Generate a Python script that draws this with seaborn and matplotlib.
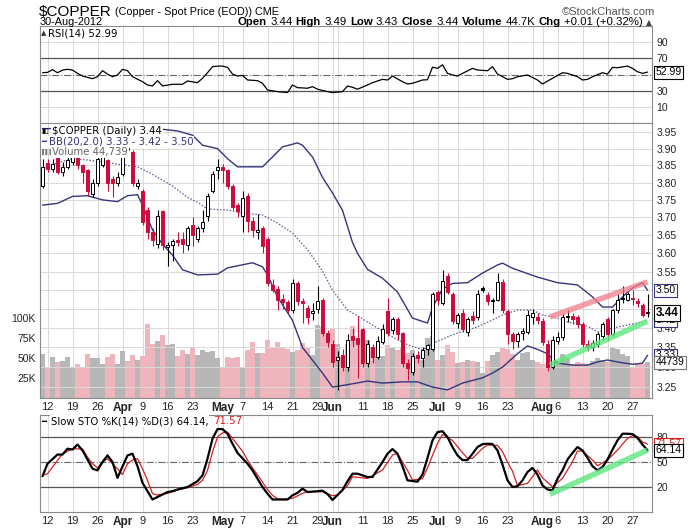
import numpy as np
import matplotlib
matplotlib.use("Agg")
import matplotlib.pyplot as plt
import matplotlib.transforms as mtransforms
from matplotlib.ticker import NullLocator, NullFormatter
import seaborn as sns

# ---------------- data ----------------
opens = [3.79, 3.856, 3.84, 3.876, 3.83, 3.845, 3.86, 3.876, 3.85, 3.836,
         3.768, 3.80, 3.85, 3.866, 3.81, 3.80, 3.826, 3.915, 3.89, 3.79,
         3.776, 3.72, 3.66, 3.626, 3.717, 3.618, 3.622, 3.636, 3.64, 3.622,
         3.68, 3.64, 3.669, 3.703, 3.776, 3.836, 3.845, 3.836, 3.79, 3.735,
         3.703, 3.76, 3.69, 3.66, 3.67, 3.64, 3.515, 3.503, 3.476, 3.468,
         3.448, 3.52, 3.472, 3.452, 3.44, 3.45, 3.474, 3.386, 3.36, 3.318,
         3.33, 3.30, 3.38, 3.375, 3.397, 3.31, 3.351, 3.326, 3.365, 3.444,
         3.394, 3.424, 3.388, 3.31, 3.288, 3.33, 3.322, 3.347, 3.347, 3.496,
         3.467, 3.538, 3.491, 3.414, 3.44, 3.39, 3.431, 3.428, 3.505, 3.487,
         3.47, 3.474, 3.523, 3.444, 3.384, 3.367, 3.388, 3.39, 3.428, 3.428,
         3.418, 3.36, 3.30, 3.367, 3.376, 3.428, 3.431, 3.428, 3.41, 3.36,
         3.351, 3.36, 3.38, 3.424, 3.384, 3.448, 3.48, 3.474, 3.48, 3.472,
         3.46, 3.44]
highs = [3.87, 3.87, 3.87, 3.885, 3.86, 3.88, 3.89, 3.885, 3.855, 3.84,
         3.81, 3.885, 3.886, 3.87, 3.82, 3.83, 3.91, 3.93, 3.895, 3.81,
         3.78, 3.73, 3.67, 3.72, 3.72, 3.63, 3.64, 3.66, 3.66, 3.675,
         3.70, 3.675, 3.72, 3.77, 3.835, 3.87, 3.855, 3.84, 3.795, 3.74,
         3.776, 3.77, 3.70, 3.71, 3.675, 3.645, 3.53, 3.51, 3.49, 3.475,
         3.53, 3.525, 3.48, 3.46, 3.465, 3.51, 3.48, 3.395, 3.37, 3.34,
         3.345, 3.385, 3.40, 3.431, 3.40, 3.37, 3.36, 3.38, 3.41, 3.478,
         3.43, 3.43, 3.39, 3.32, 3.335, 3.34, 3.35, 3.36, 3.495, 3.50,
         3.555, 3.545, 3.495, 3.44, 3.45, 3.43, 3.445, 3.50, 3.51, 3.495,
         3.48, 3.545, 3.53, 3.45, 3.39, 3.39, 3.40, 3.448, 3.45, 3.44,
         3.425, 3.37, 3.38, 3.39, 3.44, 3.448, 3.44, 3.435, 3.415, 3.37,
         3.37, 3.39, 3.415, 3.43, 3.45, 3.49, 3.51, 3.495, 3.50, 3.48,
         3.465, 3.49]
lows = [3.785, 3.83, 3.83, 3.825, 3.82, 3.84, 3.85, 3.84, 3.80, 3.76,
        3.757, 3.79, 3.845, 3.776, 3.757, 3.79, 3.82, 3.88, 3.79, 3.78,
        3.68, 3.64, 3.62, 3.615, 3.61, 3.566, 3.58, 3.62, 3.60, 3.61,
        3.62, 3.63, 3.66, 3.69, 3.77, 3.81, 3.80, 3.78, 3.72, 3.70,
        3.66, 3.66, 3.645, 3.64, 3.60, 3.51, 3.495, 3.448, 3.45, 3.44,
        3.44, 3.46, 3.413, 3.41, 3.42, 3.44, 3.38, 3.35, 3.30, 3.243,
        3.29, 3.29, 3.35, 3.272, 3.30, 3.30, 3.31, 3.32, 3.36, 3.38,
        3.385, 3.37, 3.30, 3.268, 3.28, 3.31, 3.30, 3.33, 3.34, 3.46,
        3.46, 3.49, 3.41, 3.40, 3.39, 3.38, 3.41, 3.42, 3.495, 3.46,
        3.44, 3.47, 3.44, 3.36, 3.347, 3.35, 3.37, 3.385, 3.41, 3.41,
        3.355, 3.29, 3.295, 3.36, 3.37, 3.415, 3.41, 3.40, 3.35, 3.34,
        3.34, 3.35, 3.37, 3.37, 3.38, 3.44, 3.465, 3.47, 3.46, 3.455,
        3.43, 3.43]
closes = [3.845, 3.84, 3.855, 3.83, 3.845, 3.866, 3.876, 3.85, 3.83, 3.776,
          3.80, 3.87, 3.876, 3.80, 3.798, 3.816, 3.90, 3.895, 3.80, 3.80,
          3.688, 3.66, 3.636, 3.703, 3.622, 3.622, 3.635, 3.631, 3.625, 3.669,
          3.65, 3.669, 3.688, 3.76, 3.826, 3.845, 3.836, 3.79, 3.73, 3.717,
          3.755, 3.69, 3.665, 3.665, 3.62, 3.518, 3.50, 3.474, 3.468, 3.448,
          3.52, 3.472, 3.466, 3.43, 3.445, 3.472, 3.386, 3.365, 3.314, 3.325,
          3.30, 3.37, 3.368, 3.36, 3.31, 3.359, 3.326, 3.367, 3.397, 3.388,
          3.424, 3.384, 3.31, 3.298, 3.329, 3.322, 3.344, 3.355, 3.491, 3.474,
          3.525, 3.496, 3.418, 3.435, 3.397, 3.424, 3.42, 3.491, 3.50, 3.47,
          3.474, 3.523, 3.448, 3.384, 3.367, 3.384, 3.392, 3.435, 3.44, 3.42,
          3.364, 3.30, 3.37, 3.376, 3.428, 3.431, 3.424, 3.41, 3.359, 3.351,
          3.362, 3.384, 3.41, 3.384, 3.448, 3.474, 3.476, 3.491, 3.476, 3.465,
          3.435, 3.44]
volume_k = [55, 38, 51, 45, 46, 51, 39, 43, 39, 55,
            50, 50, 43, 51, 55, 42, 59, 46, 54, 48,
            52, 93, 68, 71, 79, 66, 68, 53, 60, 55,
            64, 54, 60, 58, 59, 50, 37, 51, 50, 51,
            38, 60, 70, 56, 56, 72, 64, 70, 62, 61,
            57, 60, 69, 64, 54, 91, 89, 79, 87, 67,
            52, 68, 90, 75, 85, 72, 62, 52, 52, 66,
            62, 60, 62, 56, 60, 52, 47, 75, 77, 47,
            54, 66, 58, 44, 45, 47, 46, 45, 31, 46,
            54, 57, 64, 61, 55, 48, 56, 58, 48, 45,
            42, 40, 52, 46, 55, 50, 42, 45, 44, 42,
            46, 50, 48, 45, 64, 61, 55, 52, 37, 44,
            43, 44.739]

bb_up_days = [0, 5, 10, 15, 20, 24, 27, 30, 32, 35, 37, 39, 44, 46, 48, 51, 52, 54, 56, 58,
              60, 62, 63, 65, 68, 71, 74, 77, 78, 80, 82, 85, 88, 91, 92, 94, 99, 103, 107, 110,
              112, 114, 116, 118, 120, 121]
bb_up_vals = [3.96, 3.96, 3.955, 3.958, 3.962, 3.958, 3.953, 3.94, 3.91, 3.90,
              3.87, 3.846, 3.846, 3.875, 3.905, 3.917, 3.91, 3.875, 3.815, 3.77,
              3.72, 3.63, 3.60, 3.556, 3.532, 3.495, 3.426, 3.413, 3.454, 3.503,
              3.518, 3.52, 3.546, 3.568, 3.573, 3.559, 3.535, 3.52, 3.514, 3.482,
              3.455, 3.455, 3.482, 3.506, 3.52, 3.50]
bb_mid_days = [0, 3, 6, 9, 16, 19, 22, 26, 29, 31, 33, 37, 40, 44, 47, 50, 53, 56, 58, 61,
               63, 67, 70, 73, 76, 78, 81, 83, 87, 90, 92, 95, 98, 100, 103, 105, 109, 111, 114, 117,
               120, 121]
bb_mid_vals = [3.84, 3.858, 3.87, 3.866, 3.852, 3.846, 3.824, 3.79, 3.757, 3.743,
               3.724, 3.721, 3.712, 3.707, 3.684, 3.656, 3.61, 3.552, 3.50, 3.447,
               3.432, 3.40, 3.377, 3.357, 3.344, 3.36, 3.377, 3.387, 3.403, 3.421,
               3.434, 3.447, 3.447, 3.434, 3.426, 3.416, 3.405, 3.39, 3.40, 3.408,
               3.416, 3.42]
bb_lo_days = [0, 3, 6, 9, 12, 15, 17, 19, 20, 22, 24, 26, 28, 31, 35, 37, 42, 44, 45, 47,
              50, 52, 56, 58, 61, 65, 68, 72, 75, 78, 81, 84, 88, 90, 92, 95, 97, 99, 101, 103,
              106, 109, 111, 113, 115, 118, 120, 121]
bb_lo_vals = [3.735, 3.74, 3.76, 3.762, 3.75, 3.745, 3.762, 3.765, 3.735, 3.665,
              3.625, 3.595, 3.555, 3.541, 3.543, 3.56, 3.574, 3.563, 3.541, 3.482,
              3.42, 3.35, 3.285, 3.25, 3.256, 3.265, 3.26, 3.263, 3.263, 3.25,
              3.243, 3.26, 3.273, 3.285, 3.30, 3.334, 3.354, 3.345, 3.334, 3.31,
              3.305, 3.305, 3.313, 3.318, 3.313, 3.307, 3.31, 3.33]

rsi_days = [0, 1, 2, 3, 4, 5, 6, 7, 8, 10, 11, 12, 13, 14, 15, 16, 17, 18, 20, 21,
            22, 23, 24, 26, 28, 29, 31, 32, 33, 34, 35, 36, 37, 38, 39, 40, 41, 43, 44, 45,
            47, 49, 50, 51, 52, 53, 54, 55, 57, 58, 60, 61, 62, 63, 65, 66, 68, 69, 70, 72,
            73, 74, 75, 76, 77, 78, 79, 80, 81, 82, 83, 84, 86, 87, 89, 90, 91, 93, 94, 95,
            97, 99, 100, 102, 104, 105, 107, 108, 109, 110, 112, 113, 114, 115, 117, 118, 119, 120, 121]
rsi_vals = [52.2, 52.6, 56.0, 52.2, 55.5, 56.4, 55.5, 51.4, 48.1, 44.8,
            47.3, 54.7, 50.6, 47.3, 49.4, 56.4, 54.7, 47.3, 41.1, 37.0,
            35.8, 42.4, 35.8, 37.9, 37.9, 42.0, 39.9, 45.3, 52.2, 59.6,
            60.4, 60.4, 58.8, 50.6, 48.1, 48.9, 43.2, 42.4, 39.1, 30.9,
            28.8, 27.6, 37.0, 33.7, 33.4, 33.0, 35.0, 31.8, 28.8, 27.6,
            28.8, 35.8, 34.2, 31.8, 37.0, 39.9, 44.0, 43.2, 48.1, 41.1,
            38.3, 39.1, 41.1, 43.2, 43.5, 59.0, 57.6, 62.0, 51.4, 49.5,
            48.1, 51.4, 57.6, 55.5, 54.7, 59.6, 50.6, 44.0, 44.8, 47.3,
            49.4, 43.2, 38.3, 45.3, 52.2, 51.4, 47.3, 43.2, 44.0, 47.3,
            52.2, 50.6, 58.8, 58.4, 60.4, 57.6, 53.4, 51.4, 52.99]

stok_days = [0, 1, 3, 4, 5, 6, 7, 8, 10, 11, 12, 13, 14, 15, 17, 18, 19, 20, 22, 24,
             25, 26, 27, 29, 31, 32, 33, 34, 35, 36, 37, 38, 39, 41, 42, 44, 45, 46, 48, 49,
             50, 51, 52, 53, 55, 56, 57, 58, 59, 60, 61, 62, 63, 65, 66, 68, 69, 70, 71, 72,
             73, 75, 76, 77, 78, 79, 80, 81, 82, 83, 84, 85, 86, 87, 88, 89, 90, 91, 92, 93,
             94, 95, 96, 97, 98, 99, 100, 101, 102, 103, 104, 105, 106, 107, 108, 109, 110, 111, 112, 113,
             114, 115, 116, 117, 118, 119, 120, 121]
stok_vals = [33, 48, 59, 59, 66, 65, 71, 64, 42, 40, 50, 58, 50, 31, 58, 60, 45, 25, 5, 11,
             14, 15, 17, 20, 27, 34, 54, 78, 89.6, 89.6, 84, 72, 61, 48, 40, 20, 12, 5, 5, 5,
             10, 13, 18, 14, 15, 15.6, 11.6, 4.4, 10.4, 16.4, 27, 36, 36, 32, 32, 50, 60, 65.6, 60, 45,
             28, 26.4, 35, 55, 76, 86, 87, 80, 68, 58, 52.4, 52.4, 60, 68, 71.5, 72, 71.6, 64, 47, 28,
             20, 21, 28, 38, 43, 35, 22, 17, 16, 30, 40, 53, 61, 68, 64, 55, 45, 40, 44, 53,
             65, 76, 84, 84, 83.6, 79, 71, 64.14]
stod_days = [0, 1, 3, 4, 6, 8, 9, 10, 11, 12, 13, 15, 16, 17, 18, 19, 20, 21, 22, 23,
             25, 27, 29, 31, 32, 33, 34, 35, 36, 37, 38, 40, 41, 42, 44, 45, 46, 47, 48, 50,
             52, 53, 56, 58, 59, 61, 62, 64, 65, 66, 68, 70, 71, 72, 73, 74, 76, 77, 78, 79,
             80, 82, 83, 85, 86, 88, 89, 91, 92, 93, 94, 95, 97, 99, 100, 102, 104, 106, 107, 108,
             110, 111, 113, 115, 117, 118, 119, 120, 121]
stod_vals = [34, 36, 52, 60, 66, 65.6, 56, 48, 43, 50, 54, 42, 35, 48, 52.4, 54, 42, 28, 12, 10.4,
             12.4, 16.4, 19.2, 23.2, 28, 40, 62, 80, 85, 86, 78.4, 63, 52.4, 43, 26, 17, 10, 6, 5.2, 6.4,
             12.4, 14.4, 14.4, 9.6, 10.4, 21.6, 32.4, 31, 30.4, 33.6, 40.4, 58.4, 60.4, 50, 40, 28.4, 30, 43, 58, 72.4,
             83.2, 76, 68.4, 54.4, 54.4, 66.4, 70.4, 70, 62.4, 50, 39, 21.6, 24.4, 40.4, 31, 20.4, 30.4, 50.4, 63.2, 63.2,
             52.4, 45.6, 52.4, 64.4, 78.4, 81.6, 80.4, 74, 71.57]

trend_days = [101.5, 121]
trend_top_vals = [3.429, 3.522]
trend_bot_vals = [3.305, 3.418]
sto_trend_vals = [11.3, 64.4]

tick_days = [1, 6, 11, 16, 20, 25, 30, 36, 40, 45, 50, 55, 58, 64, 69, 74, 79, 83, 88, 93,
             100, 103, 108, 113, 118]
tick_labels = ['12', '19', '26', 'Apr', '9', '16', '23', 'May', '7', '14', '21', '29', 'Jun',
               '11', '18', '25', 'Jul', '9', '16', '23', 'Aug', '6', '13', '20', '27']
month_names = ['Apr', 'May', 'Jun', 'Jul', 'Aug']
grid_days = [1, 6, 11, 16, 20, 25, 30, 35, 36, 40, 45, 50, 55, 58, 59, 64, 69, 74, 79, 83,
             88, 93, 98, 100, 103, 108, 113, 118]
price_ticks = [3.25, 3.30, 3.35, 3.40, 3.45, 3.50, 3.55, 3.60, 3.65, 3.70, 3.75, 3.80,
               3.85, 3.90, 3.95]
vol_ticks = [25, 50, 75, 100]
vol_tick_labels = ['25K', '50K', '75K', '100K']
rsi_ticks = [10, 30, 70, 90]
sto_ticks = [20, 50, 80]

# ---------------- styling ----------------
W, H = 692, 531
RED = '#cf0b3c'
NAVY = '#35357d'
GRID = '#d9d9d9'
FRAME = '#8a8a8a'
NARROW = ['Liberation Sans Narrow', 'Liberation Sans', 'DejaVu Sans']

sns.set_style("white")
plt.rcParams['font.family'] = ['Liberation Sans', 'DejaVu Sans']
plt.rcParams['axes.linewidth'] = 0.8

fig = plt.figure(figsize=(W / 100, H / 100), dpi=100)
fig.patch.set_facecolor('white')


def rect(x0, y0, x1, y1):
    return [x0 / W, 1 - y1 / H, (x1 - x0) / W, (y1 - y0) / H]


ax_rsi = fig.add_axes(rect(40, 26, 652, 123))
ax_vol = fig.add_axes(rect(40, 123, 652, 398))
ax_px = fig.add_axes(rect(40, 123, 652, 398))
ax_sto = fig.add_axes(rect(40, 415, 652, 512))
ax_px.patch.set_visible(False)

days = np.arange(len(closes))
o = np.array(opens); h = np.array(highs); l = np.array(lows); c = np.array(closes)
prev = np.r_[c[0], c[:-1]]
down = c < prev
cand_col = np.where(down, RED, 'black')
filled = c < o

# vertical grid
for ax in (ax_rsi, ax_vol, ax_sto):
    for d in grid_days:
        ax.axvline(d, color=GRID, lw=0.7, zorder=0)

# ---- volume ----
vol_col = np.where(down, '#efb5bd', '#b7b7b7')
ax_vol.bar(days, volume_k, width=0.88, color=vol_col, linewidth=0, zorder=2)
ax_vol.set_ylim(0, 344)

# ---- price panel ----
ax_px.set_yscale('log')
for p in price_ticks:
    ax_px.axhline(p, color=GRID, lw=0.7, zorder=0.5)
sns.lineplot(x=bb_up_days, y=bb_up_vals, ax=ax_px, color=NAVY, lw=1.0, estimator=None, zorder=2)
sns.lineplot(x=bb_lo_days, y=bb_lo_vals, ax=ax_px, color=NAVY, lw=1.0, estimator=None, zorder=2)
sns.lineplot(x=bb_mid_days, y=bb_mid_vals, ax=ax_px, color='#5a5a9a', lw=0.9, estimator=None,
             zorder=2, linestyle=(0, (1.2, 1.4)))
ax_px.vlines(days, l, h, colors=cand_col, lw=0.8, zorder=3)
ax_px.bar(days, np.maximum(np.abs(c - o), 0.0012), bottom=np.minimum(o, c), width=0.72,
          color=np.where(filled, cand_col, 'white'), edgecolor=cand_col, linewidth=0.7, zorder=4)
ax_px.plot(trend_days, trend_top_vals, color='#f27d8a', lw=4, alpha=0.75, solid_capstyle='butt', zorder=5)
ax_px.plot(trend_days, trend_bot_vals, color='#5ee67f', lw=4, alpha=0.8, solid_capstyle='butt', zorder=5)

# ---- RSI ----
for v in (10, 90):
    ax_rsi.axhline(v, color=GRID, lw=0.7, zorder=0)
for v in (30, 70):
    ax_rsi.axhline(v, color='#555555', lw=0.9, zorder=1)
ax_rsi.axhline(50, color='#666666', lw=0.8, linestyle='-.', zorder=1)
sns.lineplot(x=rsi_days, y=rsi_vals, ax=ax_rsi, color='black', lw=0.9, estimator=None, zorder=3)
ax_rsi.set_ylim(-10, 110)

# ---- Stochastics ----
for v in (20, 80):
    ax_sto.axhline(v, color='#555555', lw=0.9, zorder=1)
ax_sto.axhline(50, color='#666666', lw=0.8, linestyle='-.', zorder=1)
sns.lineplot(x=stod_days, y=stod_vals, ax=ax_sto, color='#d42020', lw=0.9, estimator=None, zorder=3)
sns.lineplot(x=stok_days, y=stok_vals, ax=ax_sto, color='black', lw=1.6, estimator=None, zorder=4)
ax_sto.plot(trend_days, sto_trend_vals, color='#5ee67f', lw=4, alpha=0.8, solid_capstyle='butt', zorder=5)
ax_sto.set_ylim(-10, 106.5)

# ---- axes cosmetics ----
for ax in (ax_rsi, ax_vol, ax_px, ax_sto):
    ax.set_xlim(-0.5, 121.9)
    ax.set_xlabel('')
    ax.set_ylabel('')
for ax in (ax_rsi, ax_px, ax_sto):
    for s in ax.spines.values():
        s.set_color(FRAME)
        s.set_linewidth(0.8)
for s in ax_vol.spines.values():
    s.set_visible(False)

ax_px.set_ylim(3.223, 3.977)
ax_px.yaxis.tick_right()
ax_px.set_yticks(price_ticks)
ax_px.set_yticklabels([f'{p:.2f}' for p in price_ticks])
ax_px.yaxis.set_minor_locator(NullLocator())
ax_px.yaxis.set_minor_formatter(NullFormatter())
ax_px.tick_params(axis='y', length=0, pad=3, labelsize=7.5, colors='#222222')
ax_px.tick_params(axis='x', bottom=False, labelbottom=False)

ax_vol.set_yticks(vol_ticks)
ax_vol.set_yticklabels(vol_tick_labels)
ax_vol.tick_params(axis='y', left=True, length=0, pad=3, labelsize=7.5, colors='#222222')
ax_vol.set_xticks(tick_days)
ax_vol.set_xticklabels(tick_labels)
ax_vol.tick_params(axis='x', length=0, pad=3, labelsize=8, colors='#222222')

ax_rsi.yaxis.tick_right()
ax_rsi.set_yticks(rsi_ticks)
ax_rsi.tick_params(axis='y', length=0, pad=3, labelsize=7.5, colors='#222222')
ax_rsi.set_xticks([])

ax_sto.yaxis.tick_right()
ax_sto.set_yticks(sto_ticks)
ax_sto.tick_params(axis='y', length=0, pad=3, labelsize=7.5, colors='#222222')
ax_sto.set_xticks(tick_days)
ax_sto.set_xticklabels(tick_labels)
ax_sto.tick_params(axis='x', length=0, pad=3, labelsize=8, colors='#222222')

for ax in (ax_vol, ax_sto):
    for lbl in ax.get_xticklabels():
        if lbl.get_text() in month_names:
            lbl.set_fontweight('bold')
            lbl.set_fontsize(8.5)


# ---- value boxes on the right ----
def vbox(ax, yval, text, ec, color='black', weight='normal', fs=7.5, transform=None):
    tr = transform if transform is not None else ax.get_yaxis_transform()
    ax.annotate(text, xy=(1, yval), xycoords=tr, xytext=(2.5, 0), textcoords='offset points',
                va='center', ha='left', fontsize=fs, color=color, fontweight=weight,
                bbox=dict(boxstyle='square,pad=0.15', fc='white', ec=ec, lw=0.8),
                zorder=20, annotation_clip=False)


vbox(ax_px, bb_up_vals[-1], f'{bb_up_vals[-1]:.2f}', NAVY)
vbox(ax_px, bb_mid_vals[-1], f'{bb_mid_vals[-1]:.2f}', NAVY)
vbox(ax_px, bb_lo_vals[-1], f'{bb_lo_vals[-1]:.2f}', NAVY)
vol_tr = mtransforms.blended_transform_factory(ax_px.transAxes, ax_vol.transData)
vbox(ax_px, volume_k[-1], f'{volume_k[-1] * 1000:.0f}', '#777777', transform=vol_tr)
vbox(ax_px, closes[-1], f'{closes[-1]:.2f}', 'black', weight='bold', fs=8.5)
vbox(ax_rsi, rsi_vals[-1], f'{rsi_vals[-1]:.2f}', 'black')
vbox(ax_sto, stod_vals[-1], f'{stod_vals[-1]:.2f}', '#d42020', color='#d42020')
vbox(ax_sto, stok_vals[-1], f'{stok_vals[-1]:.2f}', 'black')


# ---- in-panel legends ----
def ftext(x, y, s, **kw):
    return fig.text(x / W, 1 - y / H, s, **kw)


LEG = dict(family=['DejaVu Sans'], fontsize=7.3, va='center', zorder=30)
WB = dict(boxstyle='square,pad=0.08', fc='white', ec='none')
ftext(41, 131, '\u25AE\u25AF', family=['DejaVu Sans'], fontsize=5, va='center', color='black', zorder=30)
ftext(52, 131, f'$COPPER (Daily) {closes[-1]:.2f}', color='black', bbox=WB, **LEG)
ftext(41, 142, '\u2501', family=['DejaVu Sans'], fontsize=6, va='center', color=NAVY, zorder=30)
ftext(49, 142, f'BB(20,2.0) {bb_lo_vals[-1]:.2f} - {bb_mid_vals[-1]:.2f} - {bb_up_vals[-1]:.2f}',
      color=NAVY, bbox=WB, **LEG)
ftext(41, 152, '\u258C\u258C\u258C', family=['DejaVu Sans'], fontsize=4, va='center', color='#808080', zorder=30)
ftext(52, 152, 'Volume 44,739', color='#666666', bbox=WB, **LEG)

ftext(41, 33, '\u25B2', family=['DejaVu Sans'], fontsize=5, va='center', color='#333333', zorder=30)
ftext(48, 33, f'RSI(14) {rsi_vals[-1]:.2f}', color='black', bbox=WB, **LEG)

ftext(41, 421, '\u2501', family=['DejaVu Sans'], fontsize=6, va='center', color='black', zorder=30)
t_sto = ftext(51, 421, f'Slow STO %K(14) %D(3) {stok_vals[-1]:.2f},', color='black', bbox=WB, **LEG)
ax_sto.annotate(f'{stod_vals[-1]:.2f}', xy=(1, 0.5), xycoords=t_sto, xytext=(3, 0),
                textcoords='offset points', va='center', ha='left', color='#d42020',
                family=['DejaVu Sans'], fontsize=7.3, annotation_clip=False, zorder=30)

# ---- header ----
t_title = ftext(39, 16, '$COPPER', family=NARROW, fontsize=11, va='baseline', color='black')
ax_rsi.annotate('(Copper - Spot Price (EOD)) CME', xy=(1, 0), xycoords=t_title, xytext=(2.5, 1.5),
                textcoords='offset points', va='bottom', ha='left', family=NARROW, fontsize=7.8,
                color='black', annotation_clip=False)
ftext(655, 15, '\u00A9StockCharts.com', family=NARROW, fontsize=8, ha='right', va='baseline', color='#555555')
ftext(40, 25, '30-Aug-2012', family=NARROW, fontsize=7.8, va='baseline', color='black')

hdr = [('Open', 'bold'), ('3.44', 'normal'), ('High', 'bold'), ('3.49', 'normal'),
       ('Low', 'bold'), ('3.43', 'normal'), ('Close', 'bold'), ('3.44', 'normal'),
       ('Volume', 'bold'), ('44.7K', 'normal'), ('Chg', 'bold'), ('+0.01 (+0.32%)', 'normal')]
prev_t = ftext(652, 25, '\u25B2', family=['DejaVu Sans'], fontsize=5.5, ha='right', va='baseline',
               color='#444444')
for s, wgt in reversed(hdr):
    prev_t = ax_rsi.annotate(s, xy=(0, 0), xycoords=prev_t, xytext=(-2.4, 0),
                             textcoords='offset points', va='bottom', ha='right', family=NARROW,
                             fontsize=8.2, fontweight=wgt, color='black', annotation_clip=False)

fig.savefig('out.png', dpi=100, facecolor='white')
